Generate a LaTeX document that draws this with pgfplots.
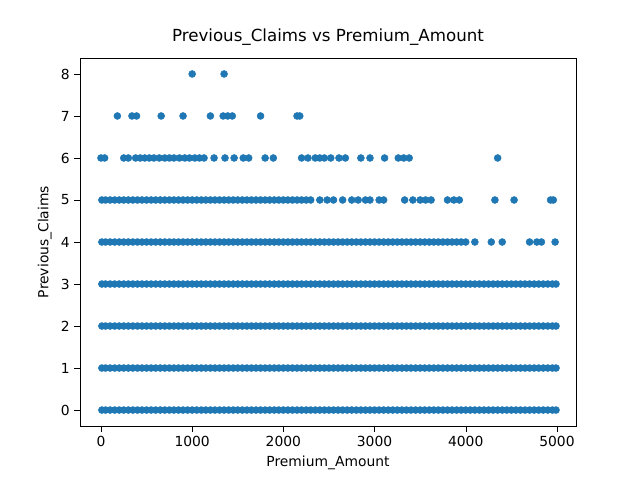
\documentclass[border=0pt]{standalone}
\usepackage{pgfplots}
\pgfplotsset{compat=1.18}
\usepackage{pgfplotstable}
\usepackage{fontspec}
\setmainfont{DejaVu Sans}
\definecolor{mpl}{HTML}{1F77B4}
\pgfplotsset{sc/.style={only marks, mark=*, mark size=2.6pt, color=mpl, draw=mpl, fill=mpl, mark options={draw=mpl, fill=mpl, solid}}}
\pgfplotstableread{
x r0 r1 r2 r3 r4 r5
10 0 1 2 3 4 5
50 0 1 2 3 4 5
100 0 1 2 3 4 5
150 0 1 2 3 4 5
200 0 1 2 3 4 5
250 0 1 2 3 4 5
300 0 1 2 3 4 5
350 0 1 2 3 4 5
400 0 1 2 3 4 5
450 0 1 2 3 4 5
500 0 1 2 3 4 5
550 0 1 2 3 4 5
600 0 1 2 3 4 5
650 0 1 2 3 4 5
700 0 1 2 3 4 5
750 0 1 2 3 4 5
800 0 1 2 3 4 5
850 0 1 2 3 4 5
900 0 1 2 3 4 5
950 0 1 2 3 4 5
1000 0 1 2 3 4 5
1050 0 1 2 3 4 5
1100 0 1 2 3 4 5
1150 0 1 2 3 4 5
1200 0 1 2 3 4 5
1250 0 1 2 3 4 5
1300 0 1 2 3 4 5
1350 0 1 2 3 4 5
1400 0 1 2 3 4 5
1450 0 1 2 3 4 5
1500 0 1 2 3 4 5
1550 0 1 2 3 4 5
1600 0 1 2 3 4 5
1650 0 1 2 3 4 5
1700 0 1 2 3 4 5
1750 0 1 2 3 4 5
1800 0 1 2 3 4 5
1850 0 1 2 3 4 5
1900 0 1 2 3 4 5
1950 0 1 2 3 4 5
2000 0 1 2 3 4 5
2050 0 1 2 3 4 5
2100 0 1 2 3 4 5
2150 0 1 2 3 4 5
2200 0 1 2 3 4 5
2250 0 1 2 3 4 5
2300 0 1 2 3 4 5
2350 0 1 2 3 4 5
2400 0 1 2 3 4 5
2450 0 1 2 3 4 5
2500 0 1 2 3 4 5
2550 0 1 2 3 4 5
2600 0 1 2 3 4 5
2650 0 1 2 3 4 5
2700 0 1 2 3 4 5
2750 0 1 2 3 4 5
2800 0 1 2 3 4 5
2850 0 1 2 3 4 5
2900 0 1 2 3 4 5
2950 0 1 2 3 4 5
3000 0 1 2 3 4 5
3050 0 1 2 3 4 5
3100 0 1 2 3 4 5
3150 0 1 2 3 4 5
3200 0 1 2 3 4 5
3250 0 1 2 3 4 5
3300 0 1 2 3 4 5
3350 0 1 2 3 4 5
3400 0 1 2 3 4 5
3450 0 1 2 3 4 5
3500 0 1 2 3 4 5
3550 0 1 2 3 4 5
3600 0 1 2 3 4 5
3650 0 1 2 3 4 5
3700 0 1 2 3 4 5
3750 0 1 2 3 4 5
3800 0 1 2 3 4 5
3850 0 1 2 3 4 5
3900 0 1 2 3 4 5
3950 0 1 2 3 4 5
4000 0 1 2 3 4 5
4050 0 1 2 3 4 5
4100 0 1 2 3 4 5
4150 0 1 2 3 4 5
4200 0 1 2 3 4 5
4250 0 1 2 3 4 5
4300 0 1 2 3 4 5
4350 0 1 2 3 4 5
4400 0 1 2 3 4 5
4450 0 1 2 3 4 5
4500 0 1 2 3 4 5
4550 0 1 2 3 4 5
4600 0 1 2 3 4 5
4650 0 1 2 3 4 5
4700 0 1 2 3 4 5
4750 0 1 2 3 4 5
4800 0 1 2 3 4 5
4850 0 1 2 3 4 5
4900 0 1 2 3 4 5
4950 0 1 2 3 4 5
4990 0 1 2 3 4 5
}\dense
\begin{document}
\begin{tikzpicture}
\begin{axis}[
  scale only axis, width=372pt, height=276pt,
  xmin=-230, xmax=5209, ymin=-0.38, ymax=8.38,
  xtick={0,1000,2000,3000,4000,5000}, ytick={0,1,...,8},
  /pgf/number format/assume math mode=true,
  /pgf/number format/1000 sep={},
  tick style={black}, tick align=outside,
  xtick pos=bottom, ytick pos=left,
  ticklabel style={font=\fontsize{10.4}{12}\selectfont},
  label style={font=\fontsize{10.4}{12}\selectfont},
  title style={font=\fontsize{12.5}{15}\selectfont},
  title={Previous\_Claims vs Premium\_Amount},
  xlabel={Premium\_Amount}, ylabel={Previous\_Claims},
]
\addplot[sc] table[x=x,y=r0]{\dense};
\addplot[sc] table[x=x,y=r1]{\dense};
\addplot[sc] table[x=x,y=r2]{\dense};
\addplot[sc] table[x=x,y=r3]{\dense};
\addplot[sc, restrict x to domain=0:3950] table[x=x,y=r4]{\dense};
\addplot[sc, restrict x to domain=0:2250] table[x=x,y=r5]{\dense};
\addplot[sc] coordinates {(4000,4)(4100,4)(4280,4)(4400,4)(4700,4)(4780,4)(4830,4)(4980,4)};
\addplot[sc] coordinates {(2300,5)(2400,5)(2480,5)(2550,5)(2650,5)(2750,5)(2820,5)(2900,5)(2950,5)(3050,5)(3100,5)(3330,5)(3420,5)(3500,5)(3560,5)(3620,5)(3800,5)(3870,5)(3930,5)(4320,5)(4530,5)(4930,5)(4960,5)};
\addplot[sc] coordinates {(0,6)(40,6)(250,6)(300,6)(380,6)(430,6)(480,6)(530,6)(580,6)(640,6)(700,6)(750,6)(800,6)(860,6)(920,6)(970,6)(1030,6)(1080,6)(1130,6)(1240,6)(1360,6)(1460,6)(1560,6)(1620,6)(1800,6)(1890,6)(2200,6)(2270,6)(2350,6)(2400,6)(2450,6)(2520,6)(2610,6)(2680,6)(2850,6)(2950,6)(3110,6)(3260,6)(3320,6)(3380,6)(4350,6)};
\addplot[sc] coordinates {(180,7)(340,7)(390,7)(660,7)(900,7)(1200,7)(1340,7)(1390,7)(1440,7)(1750,7)(2150,7)(2180,7)};
\addplot[sc] coordinates {(1000,8)(1350,8)};
\end{axis}
\path[use as bounding box] (-60pt,-40.5pt) rectangle (420pt,319.5pt);
\end{tikzpicture}
\end{document}
